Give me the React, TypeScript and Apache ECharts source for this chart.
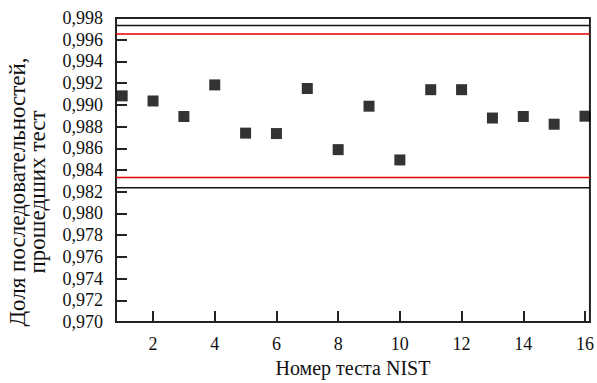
import React, { useEffect, useRef } from "react";
import * as echarts from "echarts";

const testNumbers = [1, 2, 3, 4, 5, 6, 7, 8, 9, 10, 11, 12, 13, 14, 15, 16];
const passRatios = [0.99083, 0.99036, 0.98893, 0.99184, 0.9874, 0.98736, 0.99151, 0.98588, 0.98988, 0.98493, 0.9914, 0.9914, 0.98879, 0.98893, 0.98822, 0.98896];
const blackBounds = [0.9973, 0.98236];
const redBounds = [0.99652, 0.98331];
const xTickValues = [2, 4, 6, 8, 10, 12, 14, 16];
const X_MIN = 0.8;
const X_MAX = 16.16;

const FONT = "'Liberation Serif', 'Times New Roman', serif";

export default function App() {
  const ref = useRef<HTMLDivElement>(null);
  useEffect(() => {
    if (!ref.current) return;
    const chart = echarts.init(ref.current, undefined, { renderer: "svg" });
    const data = testNumbers.map((x, i) => [x, passRatios[i]]);
    const boundSeries = (v: number, color: string) => ({
      type: "line",
      data: [
        [X_MIN, v],
        [X_MAX, v],
      ],
      symbol: "none",
      silent: true,
      lineStyle: { color, width: 1.5 },
      z: 3,
    });
    chart.setOption({
      animation: false,
      backgroundColor: "#ffffff",
      textStyle: { fontFamily: FONT },
      grid: { left: 116, right: 4, top: 18, bottom: 50, show: true, borderColor: "#222", borderWidth: 2, backgroundColor: "transparent" },
      xAxis: {
        type: "value",
        min: X_MIN,
        max: X_MAX,
        name: "Номер теста NIST",
        nameLocation: "middle",
        nameGap: 31,
        nameTextStyle: { fontFamily: FONT, fontSize: 20, color: "#111" },
        axisLine: { show: true, lineStyle: { color: "#222", width: 2 } },
        axisTick: { show: true, inside: true, length: 11, lineStyle: { color: "#222", width: 2 }, customValues: xTickValues },
        axisLabel: { fontFamily: FONT, fontSize: 18, color: "#111", margin: 13, customValues: xTickValues },
        splitLine: { show: false },
      },
      yAxis: {
        type: "value",
        min: 0.97,
        max: 0.998,
        interval: 0.002,
        axisLine: { show: true, lineStyle: { color: "#222", width: 2 } },
        axisTick: { show: true, inside: true, length: 11, lineStyle: { color: "#222", width: 2 } },
        axisLabel: {
          fontFamily: FONT,
          fontSize: 18,
          color: "#111",
          margin: 13,
          formatter: (v: number) => v.toFixed(3).replace(".", ","),
        },
        splitLine: { show: false },
      },
      graphic: [
        {
          type: "text",
          x: 27,
          y: 192,
          rotation: Math.PI / 2,
          style: {
            text: "Доля последовательностей,\nпрошедших тест",
            font: `23px ${FONT}`,
            fill: "#111",
            align: "center",
            verticalAlign: "middle",
            lineHeight: 20,
          },
        },
      ],
      series: [
        ...blackBounds.map((v) => boundSeries(v, "#111")),
        ...redBounds.map((v) => boundSeries(v, "#e00000")),
        {
          type: "scatter",
          data,
          symbol: "rect",
          symbolSize: 11,
          itemStyle: { color: "#000" },
          z: 5,
        },
      ],
    });
    return () => chart.dispose();
  }, []);
  return <div ref={ref} style={{ position: "absolute", left: 0, top: 0, width: 597, height: 383 }} />;
}
